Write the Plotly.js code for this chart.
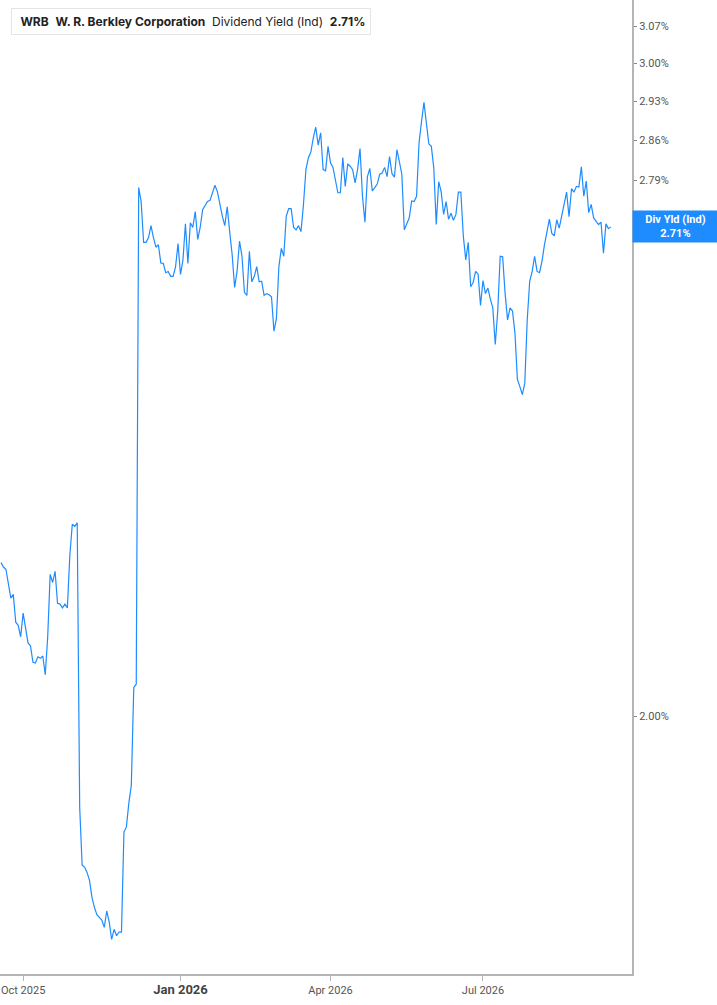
<!DOCTYPE html>
<html>
<head>
<meta charset="utf-8">
<script src="https://cdn.plot.ly/plotly-3.0.1.min.js"></script>
<style>
  html, body { margin: 0; padding: 0; background: #fff; }
  #grafico { width: 717px; height: 1005px; }
</style>
</head>
<body>
<div id="grafico"></div>
<script>
// trading days (one point per session)
let dates = [
  '2025-09-18','2025-09-19','2025-09-22','2025-09-23','2025-09-24','2025-09-25','2025-09-26','2025-09-29','2025-09-30',
  '2025-10-01','2025-10-02','2025-10-03','2025-10-06','2025-10-07','2025-10-08','2025-10-09','2025-10-10','2025-10-13','2025-10-14','2025-10-15','2025-10-16','2025-10-17','2025-10-20','2025-10-21','2025-10-22','2025-10-23','2025-10-24','2025-10-27','2025-10-28','2025-10-29','2025-10-30','2025-10-31',
  '2025-11-03','2025-11-04','2025-11-05','2025-11-06','2025-11-07','2025-11-10','2025-11-11','2025-11-12','2025-11-13','2025-11-14','2025-11-17','2025-11-18','2025-11-19','2025-11-20','2025-11-21','2025-11-24','2025-11-25','2025-11-26','2025-11-28',
  '2025-12-01','2025-12-02','2025-12-03','2025-12-04','2025-12-05','2025-12-08','2025-12-09','2025-12-10','2025-12-11','2025-12-12','2025-12-15','2025-12-16','2025-12-17','2025-12-18','2025-12-19','2025-12-22','2025-12-23','2025-12-24','2025-12-26','2025-12-29','2025-12-30','2025-12-31',
  '2026-01-02','2026-01-05','2026-01-06','2026-01-07','2026-01-08','2026-01-09','2026-01-12','2026-01-13','2026-01-14','2026-01-15','2026-01-16','2026-01-20','2026-01-21','2026-01-22','2026-01-23','2026-01-26','2026-01-27','2026-01-28','2026-01-29','2026-01-30',
  '2026-02-02','2026-02-03','2026-02-04','2026-02-05','2026-02-06','2026-02-09','2026-02-10','2026-02-11','2026-02-12','2026-02-13','2026-02-17','2026-02-18','2026-02-19','2026-02-20','2026-02-23','2026-02-24','2026-02-25','2026-02-26','2026-02-27',
  '2026-03-02','2026-03-03','2026-03-04','2026-03-05','2026-03-06','2026-03-09','2026-03-10','2026-03-11','2026-03-12','2026-03-13','2026-03-16','2026-03-17','2026-03-18','2026-03-19','2026-03-20','2026-03-23','2026-03-24','2026-03-25','2026-03-26','2026-03-27','2026-03-30','2026-03-31',
  '2026-04-01','2026-04-02','2026-04-06','2026-04-07','2026-04-08','2026-04-09','2026-04-10','2026-04-13','2026-04-14','2026-04-15','2026-04-16','2026-04-17','2026-04-20','2026-04-21','2026-04-22','2026-04-23','2026-04-24','2026-04-27','2026-04-28','2026-04-29','2026-04-30',
  '2026-05-01','2026-05-04','2026-05-05','2026-05-06','2026-05-07','2026-05-08','2026-05-11','2026-05-12','2026-05-13','2026-05-14','2026-05-15','2026-05-18','2026-05-19','2026-05-20','2026-05-21','2026-05-22','2026-05-26','2026-05-27','2026-05-28','2026-05-29',
  '2026-06-01','2026-06-02','2026-06-03','2026-06-04','2026-06-05','2026-06-08','2026-06-09','2026-06-10','2026-06-11','2026-06-12','2026-06-15','2026-06-16','2026-06-17','2026-06-18','2026-06-22','2026-06-23','2026-06-24','2026-06-25','2026-06-26','2026-06-29','2026-06-30',
  '2026-07-01','2026-07-02','2026-07-06','2026-07-07','2026-07-08','2026-07-09','2026-07-10','2026-07-13','2026-07-14','2026-07-15','2026-07-16','2026-07-17','2026-07-20','2026-07-21','2026-07-22','2026-07-23','2026-07-24','2026-07-27','2026-07-28','2026-07-29','2026-07-30','2026-07-31',
  '2026-08-03','2026-08-04','2026-08-05','2026-08-06','2026-08-07','2026-08-10','2026-08-11','2026-08-12','2026-08-13','2026-08-14','2026-08-17','2026-08-18','2026-08-19','2026-08-20','2026-08-21','2026-08-24','2026-08-25','2026-08-26','2026-08-27','2026-08-28','2026-08-31',
  '2026-09-01','2026-09-02','2026-09-03','2026-09-04','2026-09-08','2026-09-09','2026-09-10','2026-09-11','2026-09-14','2026-09-15'
];

// dividend yield (%)
let divYield = [
  2.200,2.194,2.191,2.172,2.152,2.157,2.120,2.116,2.101,
  2.132,2.110,2.093,2.089,2.068,2.067,2.075,2.073,2.076,2.052,2.101,2.184,2.173,2.188,2.145,2.144,2.139,2.144,2.139,2.210,2.253,2.250,2.255,
  1.890,1.823,1.821,1.815,1.806,1.787,1.776,1.768,1.765,1.762,1.754,1.772,1.760,1.741,1.752,1.745,1.749,1.749,1.861,
  1.867,1.895,1.916,2.036,2.040,2.777,2.753,2.684,2.684,2.692,2.712,2.692,2.676,2.680,2.650,2.649,2.634,2.636,2.628,2.628,2.644,2.682,
  2.631,2.655,2.715,2.649,2.717,2.709,2.736,2.689,2.709,2.739,2.745,2.753,2.755,2.768,2.781,2.770,2.748,2.728,2.712,2.744,
  2.702,2.664,2.610,2.636,2.686,2.661,2.602,2.597,2.669,2.619,2.628,2.644,2.619,2.620,2.597,2.600,2.598,2.595,2.540,
  2.560,2.644,2.674,2.661,2.728,2.741,2.741,2.709,2.705,2.712,2.702,2.748,2.808,2.829,2.839,2.864,2.883,2.851,2.873,2.808,2.806,2.849,
  2.820,2.812,2.790,2.768,2.768,2.829,2.779,2.818,2.814,2.808,2.785,2.808,2.845,2.762,2.718,2.796,2.810,2.771,2.777,2.783,2.800,
  2.802,2.812,2.796,2.831,2.801,2.795,2.843,2.822,2.800,2.705,2.714,2.725,2.754,2.753,2.762,2.855,2.893,2.928,2.890,2.853,
  2.849,2.811,2.714,2.787,2.770,2.731,2.753,2.723,2.733,2.721,2.731,2.769,2.769,2.695,2.655,2.684,2.611,2.618,2.636,2.632,2.581,
  2.621,2.600,2.609,2.591,2.577,2.519,2.572,2.661,2.660,2.600,2.558,2.577,2.572,2.537,2.465,2.454,2.442,2.459,2.558,2.620,2.636,2.661,
  2.636,2.634,2.653,2.680,2.704,2.723,2.699,2.695,2.722,2.708,2.728,2.748,2.769,2.727,2.775,2.769,2.779,2.778,2.813,2.762,2.788,
  2.734,2.748,2.725,2.719,2.714,2.718,2.666,2.715,2.707,2.710
];

// market holidays removed from the time axis
let holidays = ['2025-11-27','2025-12-25','2026-01-01','2026-01-19','2026-02-16',
  '2026-04-03','2026-05-25','2026-06-19','2026-07-03','2026-09-07'];

let xTickVals = ['2025-10-01','2026-01-02','2026-04-01','2026-07-01'];
let xTickText = ['Oct 2025','<b><span style="font-size:13px;color:#444">Jan 2026</span></b>','Apr 2026','Jul 2026'];

// the 2.72% tick sits under the last-value box, so it is left out
let yTickVals = [2.00, 2.79, 2.86, 2.93, 3.00, 3.07];
let yTickText = ['2.00%','2.79%','2.86%','2.93%','3.00%','3.07%'];

let lastValue = divYield[divYield.length - 1];
let azul = '#1e8cff';

let trace1 = {
  x: dates,
  y: divYield,
  type: 'scatter',
  mode: 'lines',
  line: { color: azul, width: 1.2 },
  hoverinfo: 'skip'
};

let sp = '\u00a0 ';

let layout = {
  width: 717,
  height: 1005,
  margin: { l: 0, r: 85, t: 0, b: 31 },
  paper_bgcolor: '#fff',
  plot_bgcolor: '#fff',
  showlegend: false,
  font: { family: 'Roboto, Inter, sans-serif', size: 11, color: '#555' },
  xaxis: {
    type: 'date',
    range: ['2025-09-17 14:24', '2026-09-25 14:24'],
    rangebreaks: [{ bounds: ['sat', 'mon'] }, { values: holidays }],
    tickmode: 'array',
    tickvals: xTickVals,
    ticktext: xTickText,
    showgrid: false,
    zeroline: false,
    showline: true,
    linecolor: '#b5b5b5',
    linewidth: 2,
    ticks: 'outside',
    ticklen: 5,
    tickcolor: '#b5b5b5',
    tickfont: { family: 'Roboto, sans-serif', size: 11, color: '#555' }
  },
  yaxis: {
    type: 'log',
    side: 'right',
    range: [Math.log10(1.704), Math.log10(3.12)],
    tickmode: 'array',
    tickvals: yTickVals,
    ticktext: yTickText,
    showgrid: false,
    zeroline: false,
    showline: true,
    linecolor: '#b5b5b5',
    linewidth: 2,
    ticks: 'outside',
    ticklen: 3,
    tickcolor: '#888',
    tickfont: { family: 'Roboto, sans-serif', size: 11, color: '#555' }
  },
  shapes: [
    // blue bar at the left of the header box
    { type: 'rect', xref: 'paper', yref: 'paper',
      x0: 11 / 632, x1: 14 / 632, y0: 1 - 33 / 974, y1: 1 - 8 / 974,
      fillcolor: azul, line: { width: 0 }, layer: 'above' }
  ],
  annotations: [
    { xref: 'paper', yref: 'paper', x: 11 / 632, y: 1 - 8 / 974,
      xanchor: 'left', yanchor: 'top', showarrow: false, align: 'left',
      text: '\u00a0<b>WRB</b>' + sp + '<b>W. R. Berkley Corporation</b>' + sp + 'Dividend Yield (Ind)' + sp + '<b>2.71%</b>',
      font: { family: 'Inter, sans-serif', size: 12, color: '#222' },
      bgcolor: '#fff', bordercolor: '#e4e4e4', borderwidth: 1, borderpad: 5 },
    { xref: 'paper', yref: 'y', x: 1, y: Math.log10(lastValue),
      xanchor: 'left', yanchor: 'middle', showarrow: false, align: 'center',
      text: '<b>Div Yld (Ind)</b><br><b>' + lastValue.toFixed(2) + '%</b>',
      font: { family: 'Roboto, sans-serif', size: 11, color: '#fff' },
      bgcolor: azul, width: 81, borderpad: 2 }
  ]
};

Plotly.newPlot('grafico', [trace1], layout, { displayModeBar: false, staticPlot: true });
</script>
</body>
</html>
